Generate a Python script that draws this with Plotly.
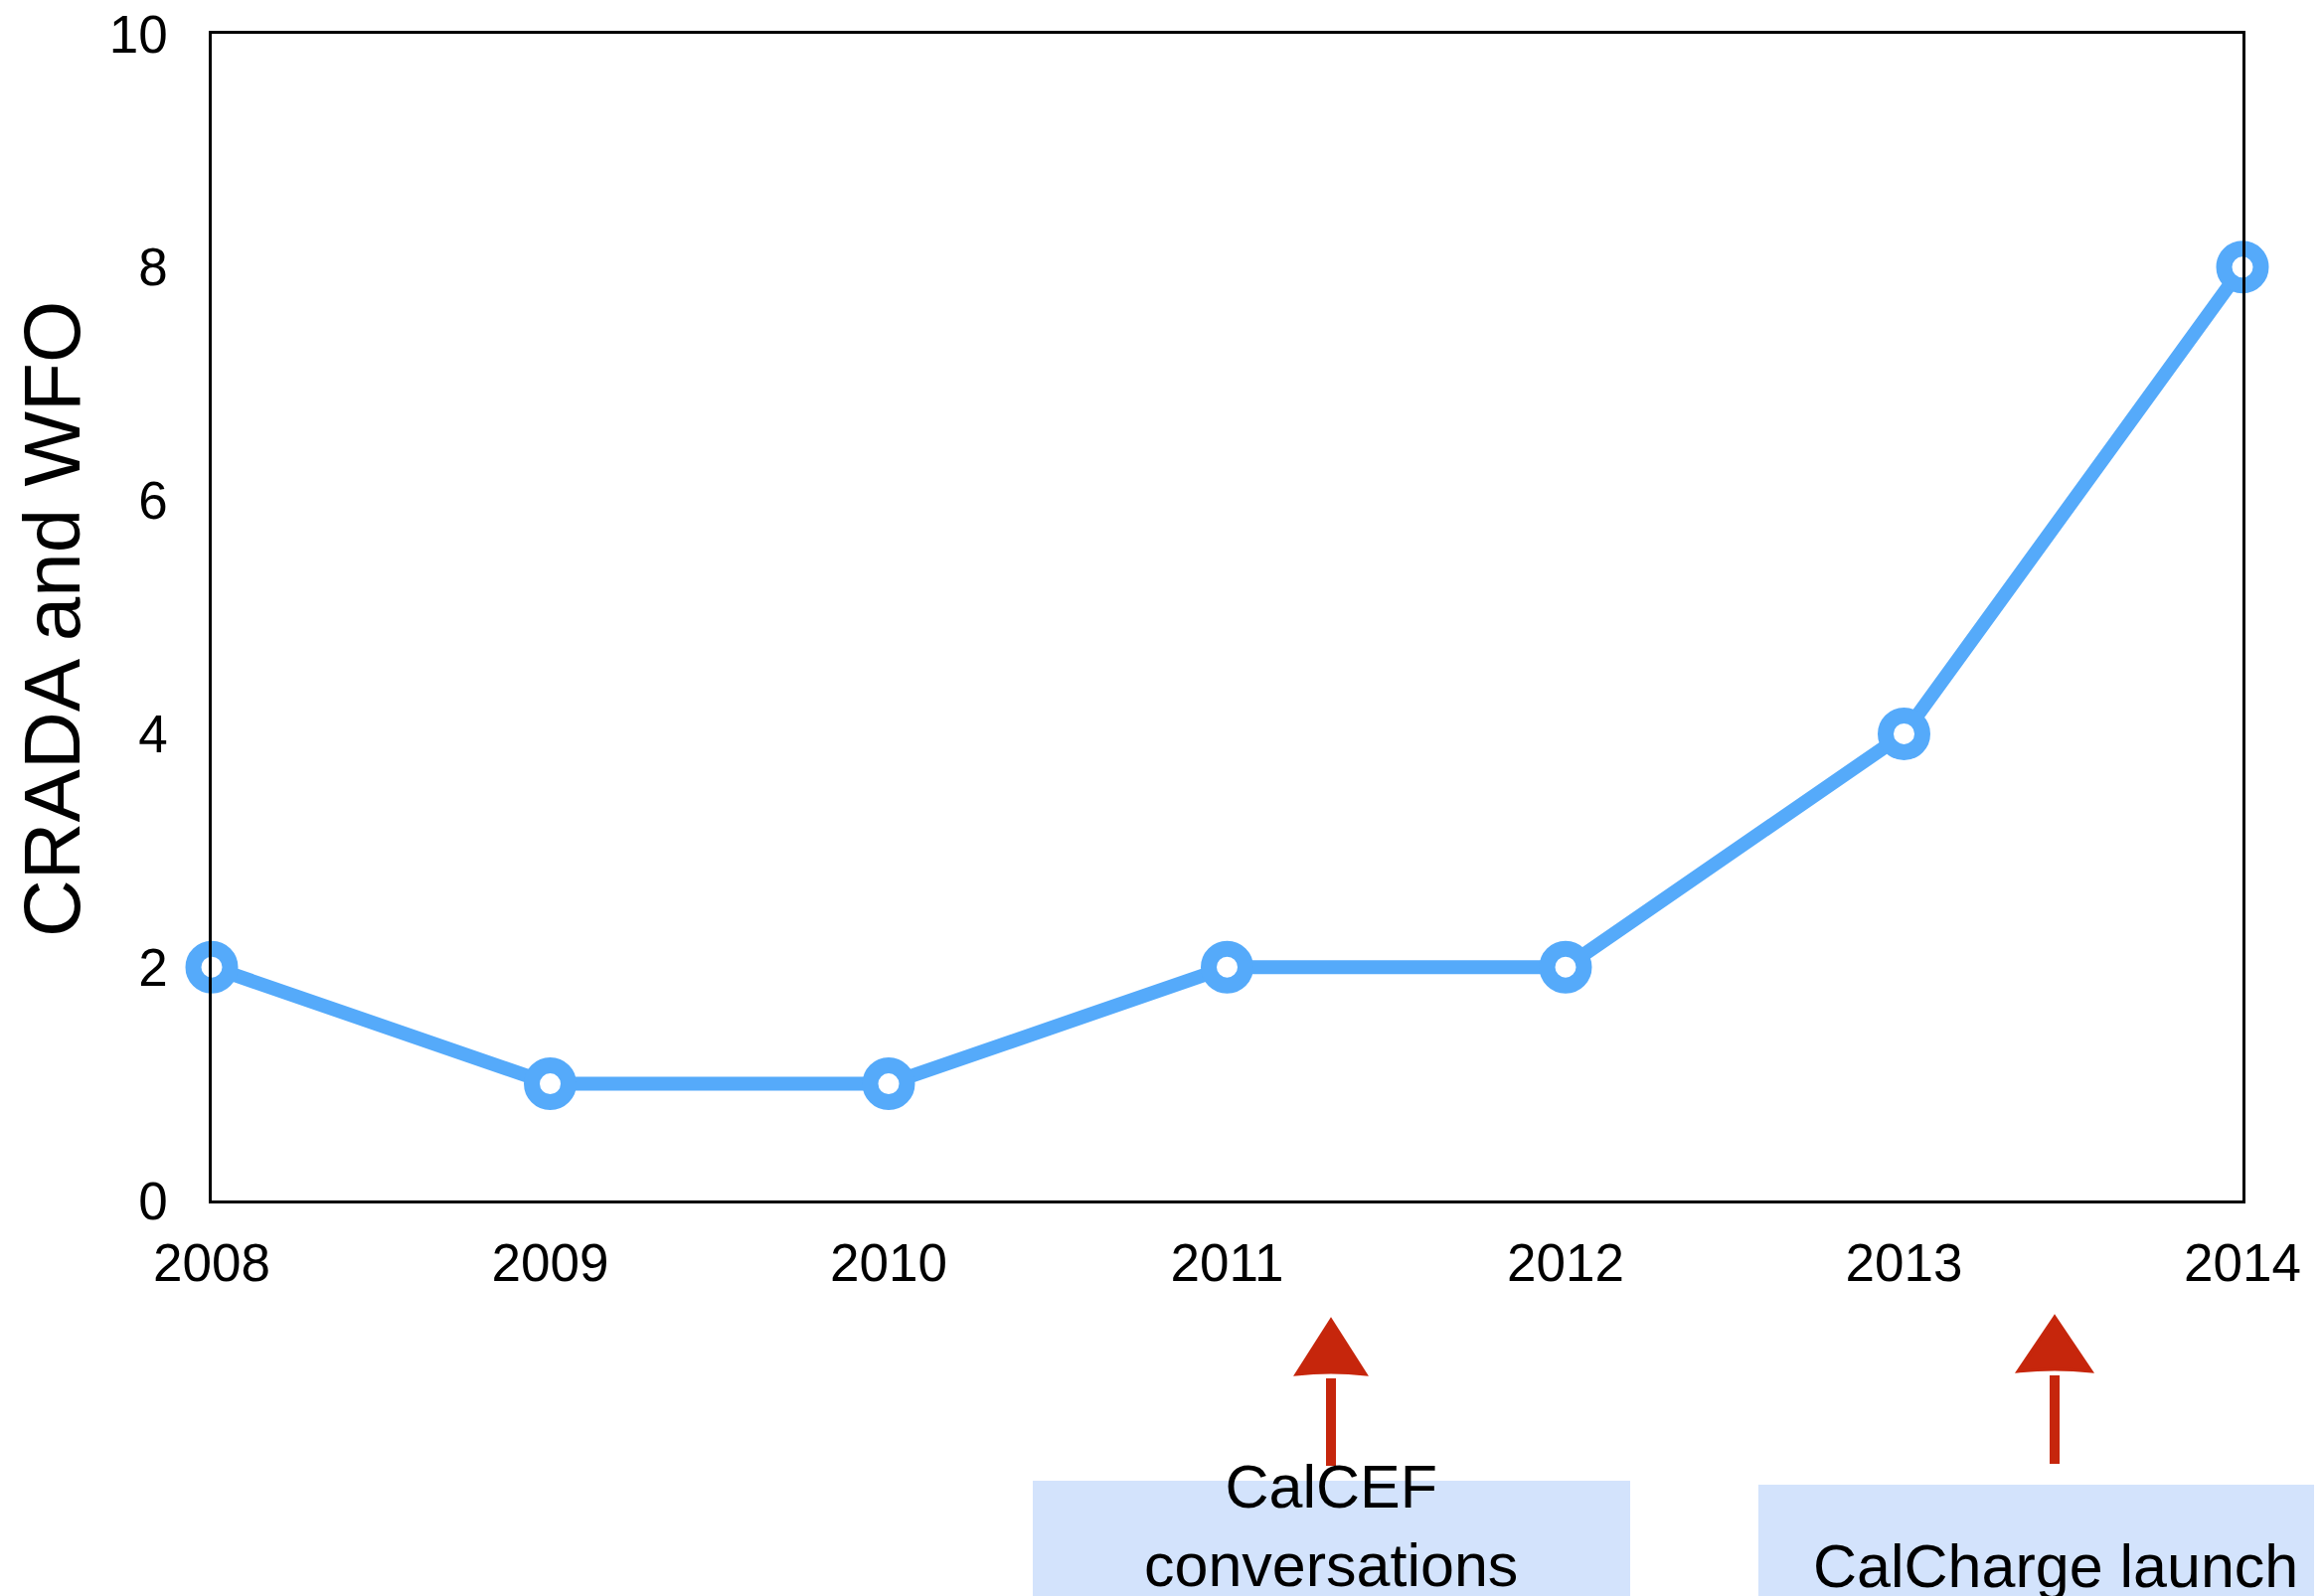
import plotly.graph_objects as go

years = [2008, 2009, 2010, 2011, 2012, 2013, 2014]
crada_wfo = [2, 1, 1, 2, 2, 4, 8]
y_ticks = [0, 2, 4, 6, 8, 10]
y_title = "CRADA and WFO"
event_labels = ["CalCEF<br>conversations", "CalCharge launch"]

LINE_BLUE = "rgb(85,170,250)"
ARROW_RED = "rgb(198,38,12)"
BOX_BLUE = "rgb(211,227,252)"
FONT = "Liberation Sans, Arial, Helvetica, sans-serif"

fig = go.Figure()
fig.add_trace(go.Scatter(
    x=years, y=crada_wfo, mode="lines+markers",
    line=dict(color=LINE_BLUE, width=14),
    marker=dict(symbol="circle", size=37, color="white",
                line=dict(color=LINE_BLUE, width=16)),
    cliponaxis=False, showlegend=False, hoverinfo="x+y",
))

OFF = 8  # page body margin
W, H = 2336, 1606
# plot area in page pixels: x 213..2256, y 34..1208
PL, PR, PT, PB = 213, 2256, 34, 1208
L = PL - OFF
T = PT - OFF
R = W - (PR - OFF)
B = H - (PB - OFF)
pw, ph = PR - PL, PB - PT

def px(X):
    return (X - PL) / pw

def py(Y):
    return (PB - Y) / ph

shapes = []
# blue label boxes
shapes.append(dict(type="rect", xref="paper", yref="paper",
                   x0=px(1039), x1=px(1640), y0=py(1490), y1=py(1700),
                   fillcolor=BOX_BLUE, line=dict(width=0), layer="below"))
shapes.append(dict(type="rect", xref="paper", yref="paper",
                   x0=px(1769), x1=px(2400), y0=py(1494), y1=py(1700),
                   fillcolor=BOX_BLUE, line=dict(width=0), layer="below"))

# red arrows (x, tip y, head base y, shaft bottom y, head half width)
for ax_px, tip, base, bottom, half in [(1339, 1328, 1383, 1475, 35), (2067, 1325, 1380, 1473, 37)]:
    shapes.append(dict(type="line", xref="paper", yref="paper",
                       x0=px(ax_px), x1=px(ax_px), y0=py(bottom), y1=py(base + 4),
                       line=dict(color=ARROW_RED, width=10)))
    path = "M {a},{t} L {l},{b} Q {a},{m} {r},{b} Z".format(
        a=px(ax_px), t=py(tip), l=px(ax_px - half), r=px(ax_px + half),
        b=py(base), m=py(base - 4))
    shapes.append(dict(type="path", xref="paper", yref="paper", path=path,
                       fillcolor=ARROW_RED, line=dict(color=ARROW_RED, width=3)))

annotations = [
    dict(text=y_title, xref="paper", yref="paper", x=px(52), y=py(623),
         textangle=-90, showarrow=False, xanchor="center", yanchor="middle",
         font=dict(size=80, color="black", family=FONT)),
    dict(text=event_labels[0], xref="paper", yref="paper", x=px(1339), y=py(1535),
         showarrow=False, xanchor="center", yanchor="middle",
         font=dict(size=61, color="black", family=FONT)),
    dict(text=event_labels[1], xref="paper", yref="paper", x=px(2068), y=py(1576),
         showarrow=False, xanchor="center", yanchor="middle",
         font=dict(size=61, color="black", family=FONT)),
]

fig.update_layout(
    width=W, height=H,
    margin=dict(l=L, r=R, t=T, b=B, pad=0, autoexpand=False),
    paper_bgcolor="white", plot_bgcolor="white",
    font=dict(family=FONT, color="black", size=53),
    shapes=shapes, annotations=annotations,
    xaxis=dict(range=[2008, 2014], tickmode="array", tickvals=years,
               ticktext=[str(y) for y in years], automargin=False,
               showgrid=False, zeroline=False, showline=True, mirror=True,
               linecolor="black", linewidth=2.5, ticks="",
               tickfont=dict(size=53, family=FONT, color="black"),
               ticklabelstandoff=15, ticklabeloverflow="allow"),
    yaxis=dict(range=[0, 10], tickmode="array", tickvals=y_ticks, automargin=False,
               showgrid=False, zeroline=False, showline=True, mirror=True,
               linecolor="black", linewidth=2.5, ticks="",
               tickfont=dict(size=53, family=FONT, color="black"),
               ticklabelstandoff=31, ticklabeloverflow="allow"),
)

fig.write_html("out.html")
